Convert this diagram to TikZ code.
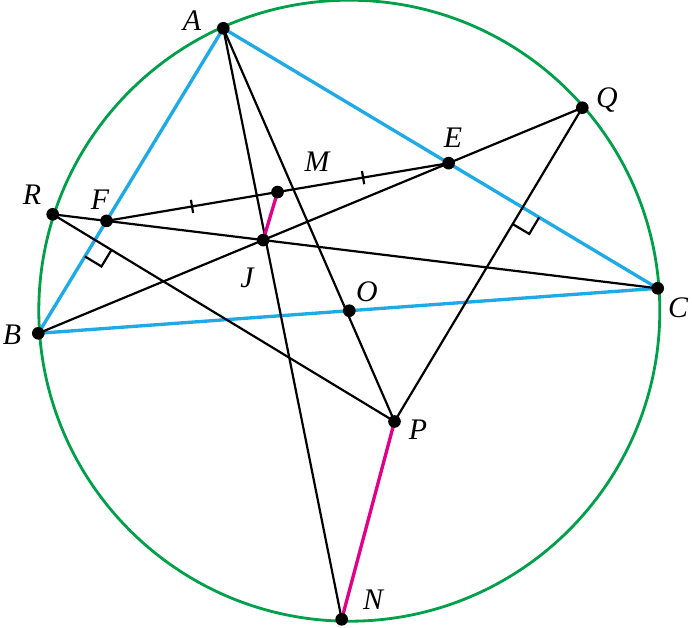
\documentclass[tikz,border=0pt]{standalone}
\usepackage{fontspec}
\setmainfont{Liberation Serif}
\usetikzlibrary{calc}
\definecolor{circgreen}{RGB}{0,160,75}
\definecolor{sidecyan}{RGB}{30,170,230}
\definecolor{segmag}{RGB}{225,0,135}

\begin{document}
\begin{tikzpicture}[x=0.02cm,y=-0.02cm,
  lbl/.style={font=\itshape\fontsize{17}{19}\selectfont,inner sep=0pt},
  blk/.style={black,line width=1.25pt},
  side/.style={sidecyan,line width=1.9pt},
  seg/.style={segmag,line width=1.9pt}]
\useasboundingbox (0,0) rectangle (692,627);
\coordinate (O) at (349.3,310.7);
\coordinate (A) at (223.3,28.3);
\coordinate (B) at (38.3,333.3);
\coordinate (C) at (657.7,288.3);
\coordinate (Q) at (582.3,107.7);
\coordinate (R) at (52.7,214.3);
\coordinate (N) at (341.7,619.3);
\coordinate (E) at (intersection of B--Q and A--C);
\coordinate (F) at (intersection of R--C and A--B);
\coordinate (J) at (intersection of B--Q and R--C);
\coordinate (M) at ($(F)!0.5!(E)$);
\coordinate (H1) at ($(A)!(R)!(B)$);
\coordinate (H2) at ($(A)!(Q)!(C)$);
\coordinate (P) at (intersection of R--H1 and Q--H2);
\draw[circgreen,line width=1.6pt](O)circle[radius=310.5];
\draw[side](A)--(B)--(C)--cycle;
\draw[blk](A)--(N);
\draw[blk](A)--(P);
\draw[blk](B)--(Q);
\draw[blk](R)--(C);
\draw[blk](F)--(E);
\draw[blk](R)--(P)--(Q);
\draw[seg](M)--(J);
\draw[seg](P)--(N);
% ticks on FM and ME
\coordinate (t1) at ($(F)!0.5!(M)$);
\coordinate (t2) at ($(M)!0.5!(E)$);
\draw[blk]($(t1)!3.8pt!90:(M)$)--($(t1)!3.8pt!-90:(M)$);
\draw[blk]($(t2)!3.8pt!90:(E)$)--($(t2)!3.8pt!-90:(E)$);
% right angles
\coordinate (k1) at ($(H1)!11pt!(B)$);
\coordinate (k2) at ($(H1)!11pt!(P)$);
\draw[blk](k1)--($(k1)+(k2)-(H1)$)--(k2);
\coordinate (k3) at ($(H2)!11pt!(C)$);
\coordinate (k4) at ($(H2)!11pt!(P)$);
\draw[blk](k3)--($(k3)+(k4)-(H2)$)--(k4);
\foreach \p in {A,B,C,E,F,J,M,O,P,Q,R,N}
  \fill[black](\p)circle[radius=3.6pt];
\node[lbl] (lA) at (192,21) {A};
\node[lbl] (lR) at (32,195) {R};
\node[lbl] (lF) at (100,200) {F};
\node[lbl] (lM) at (317,162) {M};
\node[lbl] (lJ) at (247,278) {J};
\node[lbl] (lB) at (12,335) {B};
\node[lbl] (lE) at (453,138) {E};
\node[lbl] (lQ) at (607,100) {Q};
\node[lbl] (lO) at (367,292) {O};
\node[lbl] (lC) at (678,308) {C};
\node[lbl] (lP) at (418,430) {P};
\node[lbl] (lN) at (373,600) {N};
\end{tikzpicture}
\end{document}
